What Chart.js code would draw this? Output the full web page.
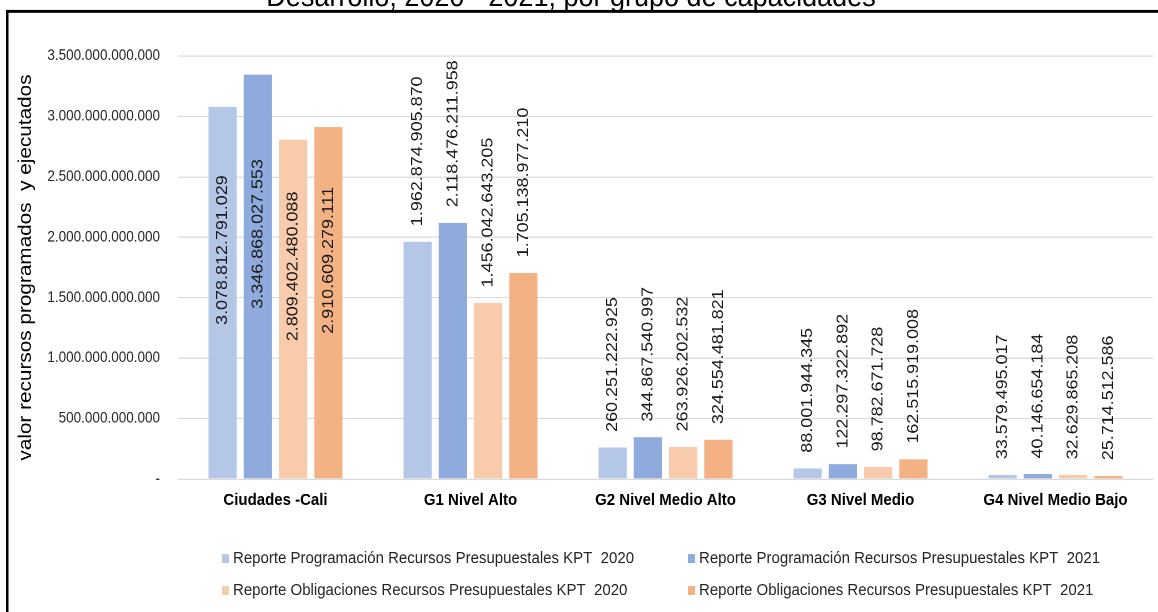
<!DOCTYPE html>
<html>
<head>
<meta charset="utf-8">
<script src="https://cdn.jsdelivr.net/npm/chart.js@4.4.0/dist/chart.umd.min.js"></script>
<style>
  html { overflow: hidden; }
  body { margin: 0; padding: 0; background: #fff; height: 612px; }
  /* el original está estirado en vertical, se imita con scaleY */
  #marco { width: 1158px; height: 546px; transform: scaleY(1.12088); transform-origin: 0 0; }
</style>
</head>
<body>
<div id="marco"><canvas id="grafico" width="1158" height="546"></canvas></div>
<script>
// Datos
const categorias = ['Ciudades -Cali', 'G1 Nivel Alto', 'G2 Nivel Medio Alto', 'G3 Nivel Medio', 'G4 Nivel Medio Bajo'];
const programacion2020 = [3078812791029, 1962874905870, 260251222925, 88001944345, 33579495017];
const programacion2021 = [3346868027553, 2118476211958, 344867540997, 122297322892, 40146654184];
const obligaciones2020 = [2809402480088, 1456042643205, 263926202532, 98782671728, 32629865208];
const obligaciones2021 = [2910609279111, 1705138977210, 324554481821, 162515919008, 25714512586];
const nombresSeries = [
    'Reporte Programación Recursos Presupuestales KPT  2020',
    'Reporte Programación Recursos Presupuestales KPT  2021',
    'Reporte Obligaciones Recursos Presupuestales KPT  2020',
    'Reporte Obligaciones Recursos Presupuestales KPT  2021'
];
const tituloEje = 'valor recursos programados  y ejecutados';
const tituloGrafico = 'Desarrollo, 2020 - 2021, por grupo de capacidades';

const FUENTE = "'Liberation Sans', Arial, sans-serif";
Chart.defaults.font.family = FUENTE;

// Formato con puntos de miles
function puntos(n) {
    return String(n).replace(/\B(?=(\d{3})+(?!\d))/g, '.');
}

// Etiquetas de valor verticales sobre cada barra
const etiquetasBarras = {
    id: 'etiquetasBarras',
    afterDatasetsDraw(chart) {
        const ctx = chart.ctx;
        ctx.save();
        ctx.font = '16px ' + FUENTE;
        ctx.fillStyle = '#1a1a1a';
        ctx.textBaseline = 'middle';
        chart.data.datasets.forEach((ds, i) => {
            chart.getDatasetMeta(i).data.forEach((bar, j) => {
                const txt = puntos(ds.data[j]);
                ctx.save();
                if (j === 0) {
                    // primer grupo: etiqueta dentro de la barra
                    ctx.translate(bar.x, (bar.y + bar.base) / 2 - 38);
                    ctx.rotate(-Math.PI / 2);
                    ctx.textAlign = 'center';
                } else {
                    ctx.translate(bar.x, bar.y - 14);
                    ctx.rotate(-Math.PI / 2);
                    ctx.textAlign = 'left';
                }
                ctx.fillText(txt, 0, 0);
                ctx.restore();
            });
        });
        ctx.restore();
    }
};

// Leyenda en dos columnas, título recortado y marco
const adornos = {
    id: 'adornos',
    afterDraw(chart) {
        const ctx = chart.ctx;
        ctx.save();
        // título (queda cortado arriba como en el original)
        ctx.font = '27px ' + FUENTE;
        ctx.fillStyle = '#000';
        ctx.textAlign = 'center';
        ctx.textBaseline = 'alphabetic';
        ctx.fillText(tituloGrafico, 571, 5.5);
        // marco
        ctx.fillRect(6, 8.9, 1152, 2.5);
        ctx.fillRect(6, 8.9, 2.5, 546);
        // leyenda
        const colX = [222, 688];
        const filaY = [498.5, 527];
        ctx.font = '15px ' + FUENTE;
        ctx.textAlign = 'left';
        ctx.textBaseline = 'middle';
        chart.data.datasets.forEach((ds, i) => {
            const x = colX[i % 2];
            const y = filaY[Math.floor(i / 2)];
            ctx.fillStyle = ds.backgroundColor;
            ctx.fillRect(x, y - 4, 7, 8);
            ctx.fillStyle = '#262626';
            ctx.fillText(ds.label, x + 11, y);
        });
        ctx.restore();
    }
};

const colores = ['#b4c7e7', '#8faadc', '#f8cbad', '#f4b183'];
const series = [programacion2020, programacion2021, obligaciones2020, obligaciones2021];

const ctx = document.getElementById('grafico').getContext('2d');
const grafico = new Chart(ctx, {
    type: 'bar',
    data: {
        labels: categorias,
        datasets: series.map((d, i) => ({
            label: nombresSeries[i],
            data: d,
            backgroundColor: colores[i],
            borderWidth: 0,
            categoryPercentage: 0.723,
            barPercentage: 0.8
        }))
    },
    options: {
        responsive: false,
        devicePixelRatio: 2,
        animation: false,
        layout: { padding: { top: 50, right: 5, bottom: 58.7, left: 0 } },
        plugins: {
            legend: { display: false },
            tooltip: { enabled: false }
        },
        scales: {
            x: {
                grid: { display: false },
                border: { display: false },
                ticks: {
                    color: '#000',
                    padding: 2,
                    font: { size: 15, weight: 'bold' }
                },
                afterFit(s) { s.height = 60; }
            },
            y: {
                min: 0,
                max: 3500000000000,
                grid: { color: '#d9d9d9', drawTicks: false },
                border: { display: false },
                ticks: {
                    stepSize: 500000000000,
                    padding: 18,
                    color: '#262626',
                    font: { size: 13.5 },
                    callback: v => v === 0 ? '-' : puntos(v)
                },
                title: {
                    display: true,
                    text: tituloEje,
                    color: '#000',
                    font: { size: 18.5 },
                    padding: { top: 15, bottom: 0 }
                },
                afterFit(s) { s.width = 178; }
            }
        }
    },
    plugins: [etiquetasBarras, adornos]
});
</script>
</body>
</html>
